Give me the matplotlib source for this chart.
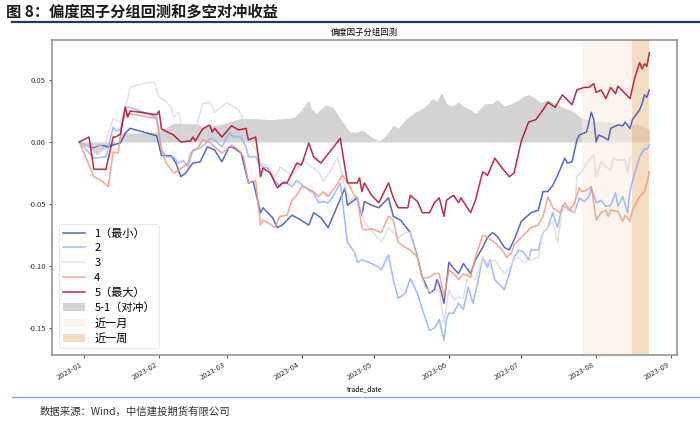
import matplotlib
matplotlib.use("Agg")
import matplotlib.pyplot as plt
import matplotlib.dates as mdates
import pandas as pd

plt.rcParams['font.family'] = ['Noto Sans CJK SC', 'DejaVu Sans']
plt.rcParams['axes.unicode_minus'] = False

# ---- data (days counted from 2023-01-01) ----
g1_days = [-2, 2, 4, 7, 10, 12, 15, 17, 19, 30, 32, 36, 38, 40, 42, 45, 48, 51, 54, 57, 60, 62, 65, 68, 70,
           73, 74, 78, 80, 82, 86, 88, 93, 95, 98, 101, 108, 109, 113, 115, 116, 119, 122, 126, 128, 131, 135,
           138, 140, 143, 145, 146, 147, 149, 151, 153, 155, 157, 160, 162, 165, 167, 169, 171, 174, 176, 178,
           181, 185, 188, 190, 192, 194, 196, 199, 200, 202, 204, 205, 208, 210, 211, 212, 213, 215, 217, 218,
           221, 223, 224, 226, 227, 230, 231, 232, 233, 234]
g1_vals = [0.0, -0.004, -0.005, -0.0024, -0.004, -0.0024, -0.0008, 0.007, 0.011, 0.005, -0.011, -0.011, -0.017,
           -0.028, -0.025, -0.017, -0.016, -0.004, -0.0064, -0.016, -0.004, -0.0048, -0.009, -0.033, -0.032,
           -0.057, -0.053, -0.061, -0.069, -0.067, -0.059, -0.061, -0.067, -0.057, -0.061, -0.069, -0.037, -0.051,
           -0.045, -0.059, -0.048, -0.051, -0.053, -0.045, -0.060, -0.063, -0.073, -0.093, -0.109, -0.122, -0.119,
           -0.111, -0.115, -0.130, -0.097, -0.102, -0.106, -0.098, -0.106, -0.095, -0.085, -0.077, -0.073, -0.076,
           -0.085, -0.087, -0.079, -0.064, -0.057, -0.055, -0.040, -0.040, -0.035, -0.027, -0.013, -0.017, -0.016,
           0.0016, 0.0056, 0.008, 0.024, 0.018, 0.0, 0.0056, 0.004, 0.0016, 0.011, 0.0137, 0.013, 0.016, 0.011,
           0.018, 0.026, 0.031, 0.038, 0.036, 0.042]

g2_days = [-2, 4, 9, 12, 13, 15, 17, 19, 30, 32, 34, 37, 39, 41, 43, 45, 48, 51, 52, 54, 57, 60, 62, 65, 67, 68,
           71, 73, 74, 76, 79, 81, 83, 86, 88, 93, 95, 97, 99, 101, 103, 106, 107, 109, 112, 113, 115, 119, 122,
           123, 126, 128, 130, 133, 135, 138, 140, 143, 145, 147, 149, 150, 151, 153, 155, 157, 159, 161, 163,
           165, 167, 168, 170, 174, 176, 178, 180, 182, 184, 185, 188, 190, 192, 194, 196, 198, 201, 203, 205,
           207, 209, 210, 212, 214, 216, 218, 220, 221, 223, 225, 226, 228, 230, 232, 233, 234]
g2_vals = [0.0, -0.013, -0.012, 0.012, 0.009, 0.0097, 0.028, 0.028, 0.020, -0.0064, -0.012, -0.012, -0.017,
           -0.015, -0.020, -0.0064, -0.005, 0.0, 0.003, 0.0016, -0.004, 0.007, 0.004, 0.004, -0.004, -0.012,
           -0.012, -0.0185, -0.020, -0.021, -0.031, -0.036, -0.032, -0.036, -0.031, -0.039, -0.041, -0.049, -0.048,
           -0.049, -0.044, -0.033, -0.049, -0.081, -0.089, -0.097, -0.095, -0.098, -0.101, -0.103, -0.091, -0.111,
           -0.126, -0.122, -0.110, -0.122, -0.135, -0.152, -0.150, -0.143, -0.160, -0.143, -0.138, -0.138, -0.130,
           -0.135, -0.117, -0.130, -0.113, -0.093, -0.101, -0.095, -0.111, -0.119, -0.106, -0.093, -0.087, -0.089,
           -0.095, -0.087, -0.087, -0.073, -0.069, -0.057, -0.069, -0.051, -0.055, -0.057, -0.045, -0.048, -0.044,
           -0.037, -0.049, -0.047, -0.052, -0.051, -0.041, -0.052, -0.044, -0.057, -0.039, -0.025, -0.012, -0.005,
           -0.006, -0.0024]

g3_days = [-2, 4, 9, 12, 15, 17, 19, 22, 27, 29, 31, 33, 36, 37, 39, 41, 44, 46, 47, 49, 52, 54, 56, 59, 62, 64,
           66, 68, 71, 73, 77, 79, 81, 86, 91, 94, 97, 99, 102, 105, 108, 110, 113, 116, 119, 123, 126, 130, 133,
           135, 138, 141, 144, 147, 149, 151, 153, 155, 157, 159, 162, 165, 167, 170, 174, 176, 178, 180, 182,
           185, 188, 190, 192, 194, 196, 198, 201, 203, 204, 206, 209, 211, 212, 214, 216, 218, 219, 221, 224,
           225, 226, 228, 230, 232, 234]
g3_vals = [0.0, -0.006, 0.0, 0.019, 0.016, 0.027, 0.044, 0.046, 0.048, 0.048, 0.036, 0.034, 0.028, 0.020, 0.024,
           0.008, 0.004, 0.0097, 0.016, 0.031, 0.032, 0.024, 0.027, 0.032, 0.028, 0.026, 0.018, 0.004, -0.0064,
           -0.017, -0.020, -0.029, -0.020, -0.027, -0.0145, -0.020, -0.024, -0.032, -0.023, -0.012, -0.037, -0.047,
           -0.043, -0.065, -0.071, -0.081, -0.069, -0.077, -0.073, -0.073, -0.095, -0.117, -0.122, -0.119, -0.146,
           -0.119, -0.127, -0.125, -0.126, -0.106, -0.111, -0.093, -0.098, -0.095, -0.106, -0.102, -0.095, -0.093,
           -0.097, -0.095, -0.093, -0.073, -0.069, -0.064, -0.081, -0.055, -0.052, -0.057, -0.028, -0.024, -0.0145,
           -0.0105, -0.028, -0.016, -0.020, -0.023, -0.013, -0.0145, -0.0145, -0.025, -0.013, -0.0105, -0.0064,
           -0.004, -0.0008]

g4_days = [-2, 4, 7, 10, 12, 14, 16, 18, 30, 32, 34, 37, 39, 43, 44, 47, 49, 52, 54, 57, 61, 64, 66, 68, 71, 73,
           74, 76, 79, 81, 84, 86, 88, 90, 92, 95, 97, 99, 101, 104, 107, 109, 112, 113, 115, 116, 119, 123, 126,
           128, 130, 133, 135, 138, 140, 143, 145, 147, 149, 151, 153, 155, 157, 160, 162, 165, 167, 170, 173,
           175, 177, 178, 181, 185, 188, 190, 192, 194, 197, 199, 201, 203, 205, 206, 208, 210, 212, 214, 216,
           217, 218, 221, 223, 224, 226, 227, 230, 232, 233, 234]
g4_vals = [0.0, -0.028, -0.031, -0.036, -0.008, -0.009, 0.018, 0.023, 0.019, -0.006, -0.017, -0.025, -0.023,
           -0.017, -0.009, -0.005, 0.0016, 0.0, -0.004, -0.009, -0.0024, -0.0064, -0.012, -0.033, -0.031, -0.067,
           -0.063, -0.065, -0.069, -0.060, -0.059, -0.047, -0.043, -0.036, -0.037, -0.040, -0.044, -0.040, -0.044,
           -0.036, -0.027, -0.032, -0.044, -0.045, -0.069, -0.071, -0.070, -0.073, -0.060, -0.063, -0.081, -0.085,
           -0.087, -0.093, -0.110, -0.109, -0.106, -0.106, -0.125, -0.103, -0.106, -0.111, -0.106, -0.109, -0.093,
           -0.075, -0.077, -0.081, -0.087, -0.093, -0.089, -0.083, -0.077, -0.069, -0.067, -0.060, -0.044, -0.053,
           -0.057, -0.049, -0.055, -0.049, -0.037, -0.040, -0.039, -0.036, -0.063, -0.057, -0.055, -0.060, -0.055,
           -0.056, -0.064, -0.059, -0.064, -0.055, -0.044, -0.040, -0.033, -0.024]

g5_days = [-2, 2, 4, 9, 12, 13, 15, 17, 18, 19, 23, 30, 31, 32, 37, 40, 44, 45, 46, 49, 52, 53, 54, 57, 61, 64,
           67, 68, 71, 72, 73, 74, 77, 80, 82, 84, 88, 90, 93, 95, 98, 100, 103, 106, 109, 113, 114, 115, 116,
           119, 122, 126, 128, 130, 134, 135, 138, 140, 143, 145, 147, 149, 150, 152, 153, 155, 156, 157, 160,
           162, 165, 167, 170, 173, 176, 178, 181, 184, 187, 190, 192, 195, 198, 202, 204, 207, 209, 211, 212,
           214, 216, 218, 220, 221, 224, 226, 228, 230, 231, 232, 233, 234]
g5_vals = [0.0, 0.004, -0.022, -0.022, 0.004, 0.004, 0.0064, 0.028, 0.020, 0.025, 0.024, 0.022, 0.025, 0.0105,
           0.0056, 0.0, 0.0008, 0.004, 0.0008, 0.0105, 0.0137, 0.008, 0.011, 0.004, 0.013, 0.0097, 0.011, 0.0016,
           0.004, -0.0105, -0.028, -0.021, -0.025, -0.037, -0.033, -0.033, -0.017, -0.0185, -0.0008, -0.012,
           -0.017, -0.012, -0.0048, 0.003, -0.033, -0.033, -0.029, -0.040, -0.033, -0.043, -0.049, -0.033, -0.045,
           -0.053, -0.053, -0.043, -0.048, -0.057, -0.057, -0.049, -0.045, -0.060, -0.047, -0.044, -0.043, -0.049,
           -0.045, -0.048, -0.057, -0.047, -0.024, -0.027, -0.013, -0.021, -0.028, -0.025, 0.0008, 0.016, 0.018,
           0.026, 0.032, 0.028, 0.038, 0.030, 0.042, 0.044, 0.044, 0.047, 0.040, 0.042, 0.035, 0.044, 0.039, 0.045,
           0.039, 0.035, 0.052, 0.064, 0.059, 0.063, 0.061, 0.072]

hedge_days = [-2, 2, 5, 8, 10, 12, 14, 16, 19, 30, 32, 37, 42, 47, 50, 57, 65, 70, 77, 84, 87, 90, 93, 94, 96,
              100, 103, 106, 110, 113, 115, 119, 122, 123, 126, 128, 130, 133, 137, 140, 142, 144, 146, 148, 150,
              152, 154, 155, 157, 160, 162, 164, 166, 169, 171, 174, 177, 180, 182, 184, 187, 189, 192, 195, 198,
              201, 203, 206, 209, 211, 214, 217, 220, 223, 226, 228, 231, 234]
hedge_vals = [0.0, -0.004, -0.0105, -0.006, -0.004, -0.002, 0.0016, 0.008, 0.007, 0.008, 0.0097, 0.015, 0.015,
              0.0145, 0.012, 0.0145, 0.019, 0.019, 0.018, 0.019, 0.020, 0.026, 0.034, 0.027, 0.023, 0.030, 0.028,
              0.019, 0.008, 0.008, 0.0097, 0.004, 0.0008, 0.0016, 0.008, 0.0137, 0.011, 0.018, 0.024, 0.027, 0.030,
              0.035, 0.033, 0.040, 0.031, 0.029, 0.031, 0.032, 0.029, 0.026, 0.023, 0.027, 0.031, 0.031, 0.034,
              0.029, 0.031, 0.034, 0.037, 0.038, 0.035, 0.032, 0.034, 0.031, 0.028, 0.026, 0.024, 0.019, 0.018,
              0.016, 0.017, 0.016, 0.015, 0.016, 0.013, 0.0145, 0.013, 0.0097]

group_labels = ['1（最小）', '2', '3', '4', '5（最大）']
hedge_label = '5-1（对冲）'
span_labels = ['近一月', '近一周']
month_start = '2023-07-26'
week_start = '2023-08-16'
period_end = '2023-08-23'
base_date = '2023-01-01'

title_text = '图 8：偏度因子分组回测和多空对冲收益'
axes_title = '偏度因子分组回测'
xlabel_text = 'trade_date'
source_text = '数据来源：Wind，中信建投期货有限公司'


def to_dates(days):
    return pd.Timestamp(base_date) + pd.to_timedelta(days, unit='D')


fig = plt.figure(figsize=(7.0, 4.23), dpi=100)
ax = fig.add_axes([0.0743, 0.1608, 0.8927, 0.7446])

cmap = plt.get_cmap('coolwarm')
series = [(g1_days, g1_vals), (g2_days, g2_vals), (g3_days, g3_vals), (g4_days, g4_vals), (g5_days, g5_vals)]
handles = []
for i, ((d, v), lab) in enumerate(zip(series, group_labels)):
    ln, = ax.plot(to_dates(d), v, color=cmap(i / 4), lw=1.1, alpha=0.85, label=lab, zorder=3)
    handles.append(ln)

hd = to_dates(hedge_days)
fill = ax.fill_between(hd, 0, hedge_vals, color='#d3d3d3', lw=0, label=hedge_label, zorder=1)
handles.append(fill)

s1 = ax.axvspan(pd.Timestamp(month_start), pd.Timestamp(week_start), color='#faeee3', alpha=0.6, lw=0,
                label=span_labels[0], zorder=2)
s2 = ax.axvspan(pd.Timestamp(week_start), pd.Timestamp(period_end), color='#eec596', alpha=0.6, lw=0,
                label=span_labels[1], zorder=2)
handles += [s1, s2]

ax.set_ylim(-0.1717, 0.0822)
ax.set_yticks([-0.15, -0.10, -0.05, 0.0, 0.05])
ax.yaxis.set_major_formatter(plt.FuncFormatter(lambda v, p: f'{v:.2f}'))
ax.xaxis.set_major_locator(mdates.MonthLocator())
ax.xaxis.set_major_formatter(mdates.DateFormatter('%Y-%m'))
ax.set_xlim(pd.Timestamp('2022-12-18 16:00'), pd.Timestamp('2023-09-03 10:00'))
for lbl in ax.get_xticklabels():
    lbl.set_rotation(30)
    lbl.set_ha('right')
ax.tick_params(labelsize=5.5, length=2.5, width=0.6, colors='#333333', pad=2)
for sp in ax.spines.values():
    sp.set_color('#8c8c8c')
    sp.set_linewidth(1.1)
ax.set_xlabel(xlabel_text, fontsize=5, labelpad=2)
ax.set_title(axes_title, fontsize=6, pad=4)

leg = ax.legend(handles=handles, loc='lower left', fontsize=8, labelspacing=0.42, handlelength=2.0,
                borderpad=0.4, handletextpad=0.8, frameon=True, bbox_to_anchor=(0.0, 0.0), borderaxespad=0.6)
leg.get_frame().set_edgecolor('#dddddd')
leg.get_frame().set_linewidth(0.6)

fig.text(0.008, 0.972, title_text, fontsize=11, fontweight='bold', va='center', ha='left', color='#1a1a1a')
fig.add_artist(plt.Line2D([0.017, 1.0], [0.947, 0.947], color='#1f3a60', lw=1.6, transform=fig.transFigure))
fig.add_artist(plt.Line2D([0.017, 1.0], [0.0615, 0.0615], color='#8eaadb', lw=1.0, transform=fig.transFigure))
fig.text(0.057, 0.028, source_text, fontsize=7.5, va='center', ha='left', color='#333333', style='italic')

fig.savefig('out.png', dpi=100)
